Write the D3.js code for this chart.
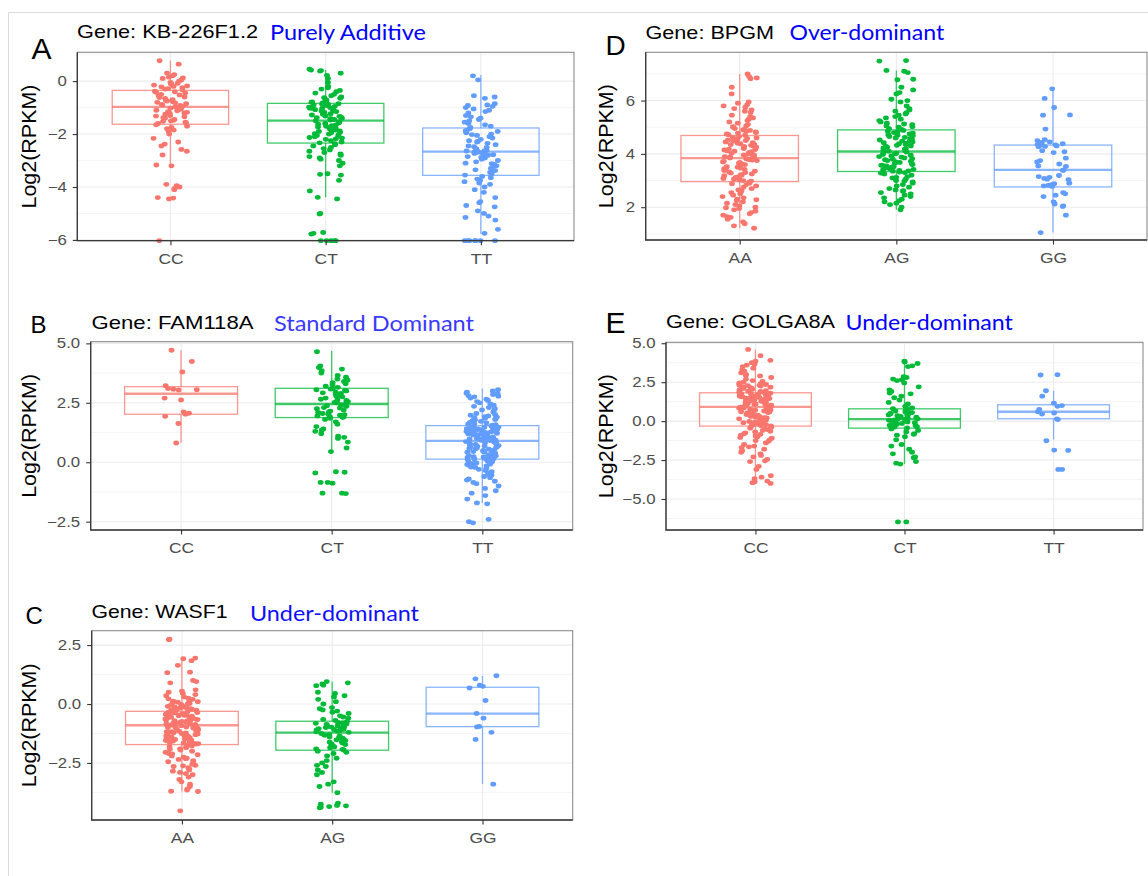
<!DOCTYPE html>
<html><head><meta charset="utf-8">
<script src="https://cdn.jsdelivr.net/npm/d3@7"></script>
<style>body{margin:0;background:#fff}svg{display:block}</style>
</head><body><svg id="c" width="1148" height="876"></svg>
<script>
// ---------------- DATA ----------------
const colorsG = ["#F8766D","#00BA38","#619CFF"];

// Panel A
const catsA = ["CC","CT","TT"];
const geneA = "Gene: KB-226F1.2", modeA = "Purely Additive";
const ticksA = [-6,-4,-2,0];
const boxA_CC = [-3.19,-1.63,-0.97,-0.35,0.77];
const boxA_CT = [-4.39,-2.34,-1.49,-0.84,0.42];
const boxA_TT = [-5.78,-3.56,-2.66,-1.77,0.23];
const ptsA_CC = [0.77,0.64,0.2,0.15,0.1,0.05,0.0,-0.05,-0.1,-0.12,-0.15,-0.2,0.25,0.3,-0.25,-0.3,-0.28,-0.22,-0.18,-0.08,0.12,-0.33,
 -0.38,-0.4,-0.45,-0.5,-0.52,-0.55,-0.6,-0.62,-0.65,-0.7,-0.72,-0.75,-0.78,-0.8,-0.82,-0.85,-0.88,-0.9,-0.92,-0.95,-0.98,-0.42,
 -1.02,-1.05,-1.08,-1.1,-1.15,-1.18,-1.2,-1.22,-1.25,-1.3,-1.32,-1.35,-1.38,-1.4,-1.45,-1.48,-1.5,-1.52,-1.55,-1.58,-1.6,-1.12,
 -1.65,-1.7,-1.75,-1.8,-1.85,-1.9,-2.0,-2.16,-2.3,-2.38,-2.45,-2.58,-2.65,-2.79,-3.17,-3.2,-3.9,-3.95,-4.0,-4.05,-4.1,-4.4,-4.45,-4.42,-6.03];
const ptsA_CT = [0.45,0.42,0.4,0.38,0.3,0.22,0.1,-0.05,-0.2,-0.25,-0.3,-0.35,-0.4,-0.45,-0.5,-0.55,-0.6,-0.62,-0.65,-0.7,-0.72,-0.75,-0.78,-0.8,-0.82,
 -0.85,-0.88,-0.9,-0.92,-0.95,-0.98,-1.0,-1.02,-1.05,-1.08,-1.1,-1.12,-1.15,-1.18,-1.2,-1.22,-1.25,-1.28,-1.3,-1.32,-1.35,-1.38,-1.4,-1.42,-1.45,-1.47,-0.87,-0.93,-1.03,-1.13,-1.23,-1.33,-1.43,
 -1.5,-1.53,-1.55,-1.58,-1.6,-1.63,-1.65,-1.68,-1.7,-1.73,-1.75,-1.78,-1.8,-1.83,-1.85,-1.88,-1.9,-1.93,-1.95,-1.98,-2.0,-2.03,-2.05,-2.08,-2.1,-2.13,-2.15,-2.18,-2.2,-2.25,-2.3,-2.33,
 -2.36,-2.4,-2.45,-2.5,-2.55,-2.6,-2.65,-2.7,-2.75,-2.8,-2.85,-2.9,-2.95,-3.0,-3.1,-3.2,-3.5,-3.55,-3.52,-3.75,-4.15,-4.39,-4.45,-5.0,-5.02,-5.72,-5.75,-5.78,-6.03,-6.03,-6.03,-6.03,-6.03];
const ptsA_TT = [0.2,0.05,-0.55,-0.6,-0.65,-0.85,-0.9,-0.92,-0.95,-1.0,-1.05,-1.1,-1.15,-1.2,-1.3,-1.35,-1.4,-1.45,-1.5,-1.55,-1.6,-1.65,-1.7,-1.75,
 -1.8,-1.85,-1.9,-1.95,-2.0,-2.05,-2.1,-2.15,-2.2,-2.25,-2.3,-2.35,-2.4,-2.45,-2.5,-2.55,-2.6,-2.62,-2.64,-1.88,-2.02,-2.28,-2.48,-2.58,-2.65,-2.63,
 -2.68,-2.7,-2.72,-2.75,-2.78,-2.8,-2.85,-2.9,-2.95,-3.0,-3.05,-3.1,-3.15,-3.2,-3.25,-3.3,-3.35,-3.4,-3.45,-3.5,-3.55,-2.73,-2.88,-3.12,-3.38,-2.69,
 -3.6,-3.65,-3.7,-3.75,-3.8,-3.85,-3.9,-4.0,-4.1,-4.2,-4.4,-4.55,-4.6,-4.7,-4.75,-4.9,-5.0,-5.1,-5.15,-5.25,-5.6,-5.75,-6.03,-6.03,-6.03,-6.03,-6.03,-6.03,-6.03];

// Panel B
const catsB = ["CC","CT","TT"];
const geneB = "Gene: FAM118A", modeB = "Standard Dominant";
const ticksB = [-2.5,0,2.5,5];
const boxB_CC = [0.81,2.02,2.88,3.18,4.71];
const boxB_CT = [0.42,1.88,2.45,3.11,4.68];
const boxB_TT = [-1.71,0.13,0.90,1.54,3.10];
const ptsB_CC = [4.71,4.24,3.80,3.22,3.10,3.07,3.05,3.04,2.70,2.62,2.12,2.06,2.02,1.93,1.63,0.81];
const ptsB_CT = [4.65,4.05,3.98,3.92,3.85,3.75,3.65,3.58,3.5,3.45,3.4,3.35,3.3,3.25,3.2,3.15,
 3.1,3.08,3.05,3.02,3.0,2.95,2.9,2.85,2.8,2.75,2.7,2.65,2.6,2.55,2.5,2.48,2.52,2.62,2.78,2.92,
 2.42,2.4,2.35,2.3,2.25,2.2,2.15,2.1,2.05,2.0,1.98,1.95,1.92,1.9,1.89,2.38,2.28,2.12,2.02,
 1.85,1.8,1.7,1.6,1.5,1.4,1.35,1.3,1.2,1.1,1.05,1.0,0.85,0.6,0.45,-0.4,-0.42,-0.45,-0.85,-0.85,-0.88,-1.3,-1.32,-1.3];
const ptsB_TT = [3.05,3.0,2.95,2.9,2.85,2.8,2.75,2.7,2.6,2.5,2.45,2.4,2.3,2.25,2.2,2.1,2.05,2.0,1.95,1.9,1.85,1.8,1.75,1.7,1.65,1.6,1.58,1.56,2.15,2.35,2.55,2.65,1.92,1.72,1.68,1.62,2.88,2.78,1.98,1.82,1.78,1.88,
 1.52,1.5,1.48,1.45,1.42,1.4,1.38,1.35,1.32,1.3,1.28,1.25,1.22,1.2,1.18,1.15,1.12,1.1,1.08,1.05,1.02,1.0,0.98,0.95,0.92,0.91,1.47,1.33,1.23,1.13,1.03,0.93,1.37,1.27,1.17,1.07,0.97,1.43,1.19,0.99,1.41,1.29,
 0.88,0.85,0.82,0.8,0.78,0.75,0.72,0.7,0.68,0.65,0.62,0.6,0.58,0.55,0.52,0.5,0.48,0.45,0.42,0.4,0.38,0.35,0.32,0.3,0.28,0.25,0.22,0.2,0.18,0.15,0.14,0.87,0.77,0.67,0.57,0.47,0.37,0.27,0.17,0.63,0.43,0.23,
 0.12,0.1,0.08,0.05,0.02,0.0,-0.02,-0.05,-0.08,-0.1,-0.12,-0.15,-0.18,-0.2,-0.25,-0.3,-0.35,-0.4,-0.45,-0.5,-0.55,-0.6,-0.65,-0.7,-0.75,-0.8,-0.85,-0.9,-1.0,-1.1,-1.2,-1.3,-1.4,-1.55,-1.71,-1.75,-2.4,-2.5,-2.55,0.06,-0.03,-0.22];

// Panel C
const catsC = ["AA","AG","GG"];
const geneC = "Gene: WASF1", modeC = "Under-dominant";
const ticksC = [-2.5,0,2.5];
const boxC_AA = [-3.71,-1.72,-0.90,-0.31,1.9];
const boxC_AG = [-3.76,-1.96,-1.21,-0.73,0.95];
const boxC_GG = [-3.40,-0.96,-0.41,0.71,1.19];
const ptsC_AA = [2.75,2.73,1.95,1.92,1.84,1.64,1.35,1.33,1.0,0.95,0.9,0.6,0.5,0.45,0.4,0.3,0.25,0.2,0.15,0.1,0.05,0.0,-0.05,-0.1,-0.15,-0.2,-0.22,-0.25,-0.28,-0.3,0.35,0.12,-0.08,-0.18,0.55,0.02,-0.12,-0.26,0.22,-0.02,0.08,-0.14,
 -0.33,-0.35,-0.38,-0.4,-0.42,-0.45,-0.48,-0.5,-0.52,-0.55,-0.58,-0.6,-0.62,-0.65,-0.68,-0.7,-0.72,-0.75,-0.78,-0.8,-0.82,-0.85,-0.88,-0.89,-0.36,-0.46,-0.56,-0.66,-0.76,-0.86,-0.41,-0.51,-0.61,-0.71,-0.81,-0.44,-0.54,-0.64,-0.74,-0.84,-0.47,-0.57,
 -0.92,-0.95,-0.98,-1.0,-1.03,-1.05,-1.08,-1.1,-1.13,-1.15,-1.18,-1.2,-1.23,-1.25,-1.28,-1.3,-1.33,-1.35,-1.38,-1.4,-1.43,-1.45,-1.48,-1.5,-1.53,-1.55,-1.58,-1.6,-1.63,-1.65,-1.68,-1.7,-0.97,-1.07,-1.17,-1.27,-1.37,-1.47,-1.57,-1.67,-1.02,-1.22,
 -1.75,-1.78,-1.8,-1.85,-1.9,-1.95,-2.0,-2.05,-2.1,-2.15,-2.2,-2.25,-2.3,-2.35,-2.4,-2.45,-2.5,-2.55,-2.6,-2.65,-2.7,-2.8,-2.85,-2.9,-2.95,-3.0,-3.1,-3.2,-3.3,-3.4,-3.5,-3.6,-3.65,-3.7,-3.71,-4.53,-1.82,-1.92,-2.12,-2.32,-2.62,-2.75];
const ptsC_AG = [0.95,0.9,0.85,0.8,0.78,0.5,0.45,0.35,0.3,0.2,0.1,0.0,-0.15,-0.2,-0.25,-0.3,-0.35,-0.4,-0.5,-0.55,-0.6,-0.65,-0.7,
 -0.75,-0.78,-0.8,-0.82,-0.85,-0.88,-0.9,-0.93,-0.95,-0.98,-1.0,-1.03,-1.05,-1.08,-1.1,-1.13,-1.15,-1.18,-1.2,-0.87,-0.97,-1.07,
 -1.25,-1.3,-1.35,-1.4,-1.45,-1.5,-1.55,-1.6,-1.65,-1.7,-1.75,-1.8,-1.85,-1.9,-1.95,-1.32,-1.52,-1.72,-1.42,-1.62,-1.82,-1.92,
 -2.0,-2.05,-2.1,-2.2,-2.3,-2.4,-2.5,-2.6,-2.65,-2.8,-2.9,-3.0,-3.3,-3.4,-3.5,-3.76,-4.2,-4.25,-4.3,-4.32,-4.35,-4.38,-4.4];
const ptsC_GG = [1.2,1.07,0.8,0.75,0.68,0.15,-0.4,-0.6,-0.95,-0.97,-1.2,-1.5,-3.4];

// Panel D
const catsD = ["AA","AG","GG"];
const geneD = "Gene: BPGM", modeD = "Over-dominant";
const ticksD = [2,4,6];
const boxD_AA = [1.21,2.96,3.84,4.69,7.0];
const boxD_AG = [1.9,3.34,4.09,4.9,7.13];
const boxD_GG = [1.05,2.76,3.40,4.33,6.43];
const ptsD_AA = [7.0,6.9,6.85,6.82,6.5,6.25,5.95,5.9,5.85,5.8,5.7,5.65,5.6,5.55,5.45,5.4,5.3,5.25,5.2,5.15,5.1,5.05,5.0,4.95,4.9,4.85,4.8,4.78,4.75,4.72,4.7,5.35,5.75,4.88,5.02,4.92,4.82,
 4.65,4.6,4.55,4.5,4.45,4.4,4.35,4.3,4.25,4.2,4.15,4.1,4.05,4.0,3.95,3.9,3.86,4.62,4.52,4.42,4.32,4.22,4.12,4.02,3.92,4.48,4.28,4.08,3.88,4.38,4.18,3.98,4.58,4.36,4.16,3.96,3.85,
 3.82,3.8,3.75,3.7,3.65,3.6,3.55,3.5,3.45,3.4,3.35,3.3,3.25,3.2,3.15,3.1,3.05,3.0,2.98,3.78,3.68,3.58,3.48,3.38,3.28,3.18,3.08,3.72,3.52,3.32,3.12,3.62,3.42,3.22,3.02,3.77,3.47,
 2.94,2.9,2.85,2.8,2.75,2.7,2.65,2.6,2.55,2.5,2.45,2.4,2.35,2.3,2.25,2.2,2.15,2.1,2.05,2.0,1.95,1.9,1.85,1.8,1.75,1.7,1.65,1.62,1.55,1.45,1.38,1.3,1.21,2.88,2.62,2.28,1.98];
const ptsD_AG = [7.5,7.48,7.13,7.1,7.05,6.8,6.78,6.5,6.4,6.3,6.25,6.05,6.0,5.95,5.8,5.7,5.6,5.55,5.5,5.45,5.35,5.3,5.25,5.2,5.15,5.1,5.05,5.0,4.95,4.92,5.4,5.65,5.02,5.12,
 4.88,4.85,4.8,4.75,4.7,4.65,4.6,4.55,4.5,4.45,4.4,4.35,4.3,4.25,4.2,4.15,4.12,4.1,4.82,4.72,4.62,4.52,4.42,4.32,4.22,4.78,4.58,4.38,4.18,4.68,4.48,4.28,
 4.05,4.0,3.95,3.9,3.85,3.8,3.75,3.7,3.65,3.6,3.55,3.5,3.45,3.4,3.36,4.02,3.92,3.82,3.72,3.62,3.52,3.42,3.98,3.78,3.58,3.38,3.88,3.68,3.48,4.07,3.35,3.57,
 3.32,3.3,3.25,3.2,3.15,3.1,3.05,3.0,2.95,2.9,2.85,2.8,2.75,2.7,2.65,2.6,2.55,2.5,2.45,2.4,2.35,2.3,2.25,2.2,2.15,2.1,2.0,1.9,3.28,3.12,2.98,2.62];
const ptsD_GG = [6.44,6.08,5.74,5.46,5.45,4.93,4.53,4.5,4.45,4.43,4.4,4.38,4.36,4.34,4.32,4.3,4.28,4.27,4.12,4.08,4.05,3.84,3.75,3.7,3.62,3.55,3.53,3.4,3.38,3.19,3.15,3.12,3.08,3.05,3.03,2.9,2.88,2.85,2.82,2.8,2.78,2.55,2.5,2.45,2.4,2.2,2.12,2.05,2.03,1.7,1.05];

// Panel E
const catsE = ["CC","CT","TT"];
const geneE = "Gene: GOLGA8A", modeE = "Under-dominant";
const ticksE = [-5,-2.5,0,2.5,5];
const boxE_CC = [-4.0,-0.32,0.92,1.82,4.6];
const boxE_CT = [-2.76,-0.45,0.13,0.79,3.81];
const boxE_TT = [-1.18,0.15,0.6,1.05,1.95];
const ptsE_CC = [4.6,4.2,3.9,3.85,3.75,3.65,3.6,3.5,3.4,3.3,3.2,3.1,3.0,2.95,2.9,2.8,2.7,2.6,2.55,2.5,2.45,2.4,2.35,2.3,2.25,2.2,2.15,2.1,2.05,2.0,1.95,1.9,1.85,1.84,2.12,2.28,2.42,2.02,1.92,2.18,2.32,1.88,
 1.8,1.78,1.75,1.72,1.7,1.68,1.65,1.62,1.6,1.58,1.55,1.52,1.5,1.48,1.45,1.42,1.4,1.38,1.35,1.32,1.3,1.28,1.25,1.22,1.2,1.18,1.15,1.12,1.1,1.08,1.05,1.02,1.0,0.98,0.95,0.93,1.77,1.57,1.37,1.17,0.97,1.47,
 0.9,0.85,0.8,0.75,0.7,0.65,0.6,0.55,0.5,0.45,0.4,0.35,0.3,0.25,0.2,0.15,0.1,0.05,0.0,-0.05,-0.1,-0.15,-0.2,-0.25,-0.3,0.88,0.72,0.58,0.42,0.28,0.12,-0.02,-0.18,0.68,0.38,0.08,-0.28,0.82,0.52,0.22,-0.08,-0.22,
 -0.35,-0.4,-0.45,-0.5,-0.55,-0.6,-0.65,-0.7,-0.75,-0.8,-0.85,-0.9,-1.0,-1.05,-1.1,-1.2,-1.3,-1.4,-1.5,-1.6,-1.7,-1.8,-1.9,-2.0,-2.1,-2.2,-2.3,-2.45,-2.55,-2.6,-2.9,-3.1,-3.5,-3.6,-3.7,-3.85,-3.9,-3.95,-4.0,-0.95,-1.25,-1.65];
const ptsE_CT = [3.85,3.8,3.7,3.55,3.5,2.85,2.8,2.7,2.65,2.6,2.45,2.2,2.0,1.9,1.8,1.75,1.6,1.5,1.35,1.2,1.1,0.95,0.85,0.8,
 0.78,0.72,0.68,0.62,0.55,0.5,0.45,0.4,0.35,0.3,0.25,0.2,0.15,0.58,0.38,0.22,0.65,0.48,
 0.12,0.1,0.05,0.0,-0.05,-0.1,-0.15,-0.2,-0.25,-0.3,-0.35,-0.4,-0.44,0.02,-0.12,-0.28,0.08,-0.38,
 -0.5,-0.6,-0.7,-0.8,-0.85,-0.9,-1.0,-1.2,-1.5,-1.6,-1.8,-2.0,-2.1,-2.3,-2.35,-2.6,-2.7,-2.76,-6.47,-6.47];
const ptsE_TT = [2.98,2.96,1.95,1.6,1.15,1.0,0.95,0.75,0.6,0.52,0.45,0.15,0.1,-1.26,-1.86,-1.88,-3.1,-3.1];

// ---------------- LAYOUT ----------------
const panels = [
 {cats:catsA, boxes:[boxA_CC,boxA_CT,boxA_TT], pts:[ptsA_CC,ptsA_CT,ptsA_TT], ticks:ticksA, fmt:d3.format("d"),
  x0:77.3, x1:574, y0:52.3, y1:240.7, dom:[-6.03,1.09], gene:geneA, mode:modeA,
  letter:"A", lx:31.5, ly:59, ls:30, gx:77, gy:38, gw:181, mx:270, my:40, mw:156, mc:"#0000ff", tx:28},
 {cats:catsB, boxes:[boxB_CC,boxB_CT,boxB_TT], pts:[ptsB_CC,ptsB_CT,ptsB_TT], ticks:ticksB, fmt:d3.format(".1f"),
  x0:90.7, x1:572.7, y0:341.7, y1:530, dom:[-2.85,5.07], gene:geneB, mode:modeB,
  letter:"B", lx:30.5, ly:333, ls:24, gx:91.5, gy:328.5, gw:162, mx:274, my:331, mw:200, mc:"#3a3aff", tx:28},
 {cats:catsC, boxes:[boxC_AA,boxC_AG,boxC_GG], pts:[ptsC_AA,ptsC_AG,ptsC_GG], ticks:ticksC, fmt:d3.format(".1f"),
  x0:91.7, x1:572.7, y0:630.7, y1:820, dom:[-4.92,3.11], gene:geneC, mode:modeC,
  letter:"C", lx:25.5, ly:624.3, ls:24, gx:91.5, gy:617.5, gw:136, mx:250, my:621, mw:169, mc:"#1010ff", tx:28},
 {cats:catsD, boxes:[boxD_AA,boxD_AG,boxD_GG], pts:[ptsD_AA,ptsD_AG,ptsD_GG], ticks:ticksD, fmt:d3.format("d"),
  x0:645.7, x1:1147, y0:52.3, y1:240, dom:[0.77,7.81], gene:geneD, mode:modeD,
  letter:"D", lx:605.5, ly:55, ls:28, gx:645.5, gy:38.5, gw:128.6, mx:789.5, my:40, mw:154.7, mc:"#0000ff", tx:605},
 {cats:catsE, boxes:[boxE_CC,boxE_CT,boxE_TT], pts:[ptsE_CC,ptsE_CT,ptsE_TT], ticks:ticksE, fmt:d3.format(".1f"),
  x0:666, x1:1143, y0:342.3, y1:530, dom:[-6.99,5.06], gene:geneE, mode:modeE,
  letter:"E", lx:605.5, ly:333, ls:30, gx:666, gy:327.5, gw:169, mx:845.5, my:330, mw:167.4, mc:"#0000ff", tx:605}
];

const SX = 1.2; // horizontal stretch of the ggplot text
const FONT = "'Liberation Sans', Arial, sans-serif";
const svg = d3.select("#c");
svg.append("rect").attr("width",1148).attr("height",876).attr("fill","#fff");
svg.append("path").attr("d","M8.5,876 V12.5 H1148").attr("fill","none").attr("stroke","#dadada").attr("stroke-width",1);

function jit(i,k){ const s = Math.sin(i*12.9898 + k*78.233)*43758.5453; return (s - Math.floor(s))*2 - 1; }

panels.forEach((p,pi)=>{
  const g = svg.append("g");
  const x = d3.scalePoint().domain(p.cats).range([p.x0,p.x1]).padding(0.6);
  const y = d3.scaleLinear().domain(p.dom).range([p.y1,p.y0]);
  const step = p.ticks[1]-p.ticks[0];
  const minors = [];
  for (let v = p.ticks[0]-step/2; v <= p.dom[1]; v += step) if (v >= p.dom[0]) minors.push(v);
  const grid = g.append("g");
  grid.selectAll(".mn").data(minors).join("line")
    .attr("x1",p.x0).attr("x2",p.x1).attr("y1",d=>y(d)).attr("y2",d=>y(d))
    .attr("stroke","#f3f3f3").attr("stroke-width",0.8);
  grid.selectAll(".mj").data(p.ticks).join("line")
    .attr("x1",p.x0).attr("x2",p.x1).attr("y1",d=>y(d)).attr("y2",d=>y(d))
    .attr("stroke","#ebebeb").attr("stroke-width",1.1);
  grid.selectAll(".vc").data(p.cats).join("line")
    .attr("x1",d=>x(d)).attr("x2",d=>x(d)).attr("y1",p.y0).attr("y2",p.y1)
    .attr("stroke","#ebebeb").attr("stroke-width",1.1);

  const bw = x.step()*0.75;
  p.cats.forEach((c,i)=>{
    const b = p.boxes[i], col = colorsG[i], cx = x(c);
    const bg = g.append("g").attr("stroke",col).attr("fill","none").attr("stroke-opacity",0.75);
    bg.append("line").attr("x1",cx).attr("x2",cx).attr("y1",y(b[0])).attr("y2",y(b[1])).attr("stroke-width",1.3);
    bg.append("line").attr("x1",cx).attr("x2",cx).attr("y1",y(b[3])).attr("y2",y(b[4])).attr("stroke-width",1.3);
    bg.append("rect").attr("x",cx-bw/2).attr("y",y(b[3])).attr("width",bw).attr("height",y(b[1])-y(b[3])).attr("stroke-width",1.3);
    bg.append("line").attr("x1",cx-bw/2).attr("x2",cx+bw/2).attr("y1",y(b[2])).attr("y2",y(b[2])).attr("stroke-width",2.3);
  });
  p.cats.forEach((c,i)=>{
    const col = colorsG[i], cx = x(c);
    g.append("g").selectAll("ellipse").data(p.pts[i]).join("ellipse")
      .attr("cx",(d,j)=>cx + jit(j, pi*3+i+1)*x.step()*0.11)
      .attr("cy",d=>y(Math.max(p.dom[0],Math.min(p.dom[1],d))))
      .attr("rx",2.9).attr("ry",2.4).attr("fill",col);
  });
  // border
  g.append("rect").attr("x",p.x0).attr("y",p.y0).attr("width",p.x1-p.x0).attr("height",p.y1-p.y0)
    .attr("fill","none").attr("stroke","#8c8c8c").attr("stroke-width",1.1);
  g.append("path").attr("d",`M${p.x0},${p.y0} V${p.y1} H${p.x1}`).attr("fill","none").attr("stroke","#3a3a3a").attr("stroke-width",1.3);

  // axes
  const ay = g.append("g").attr("transform",`translate(${p.x0},0)`)
    .call(d3.axisLeft(y).tickValues(p.ticks).tickFormat(p.fmt).tickSize(4.5).tickPadding(6));
  const ax = g.append("g").attr("transform",`translate(0,${p.y1})`)
    .call(d3.axisBottom(x).tickSize(4.5).tickPadding(8.3));
  [ay,ax].forEach(a=>{
    a.select(".domain").remove();
    a.selectAll("line").attr("stroke","#333").attr("stroke-width",1.1);
    a.selectAll("text").attr("font-family",FONT).attr("fill","#4d4d4d");
  });
  ay.selectAll("text").attr("font-size",14).each(function(){ const t=d3.select(this); t.attr("x",+t.attr("x")/SX).attr("transform",`scale(${SX},1)`); });
  ax.selectAll("text").attr("font-size",14.5).attr("transform",`scale(${SX},1)`);

  // y title
  g.append("text").attr("transform",`translate(${p.tx},${(p.y0+p.y1)/2}) rotate(-90)`)
    .attr("text-anchor","middle").attr("dy","0.36em").attr("font-family",FONT).attr("font-size",21)
    .attr("textLength",124).attr("lengthAdjust","spacingAndGlyphs").attr("fill","#000").text("Log2(RPKM)");
  // gene title
  g.append("text").attr("x",p.gx).attr("y",p.gy).attr("font-family",FONT).attr("font-size",18.5)
    .attr("textLength",p.gw).attr("lengthAdjust","spacingAndGlyphs").attr("fill","#000").text(p.gene);
  // mode label
  g.append("text").attr("x",p.mx).attr("y",p.my).attr("font-family","Lato, 'Open Sans', sans-serif").attr("font-size",21)
    .attr("textLength",p.mw).attr("lengthAdjust","spacingAndGlyphs").attr("fill",p.mc).text(p.mode);
  // panel letter
  g.append("text").attr("x",p.lx).attr("y",p.ly).attr("font-family",FONT).attr("font-size",p.ls).attr("fill","#000").text(p.letter);
});
</script>
</body></html>
